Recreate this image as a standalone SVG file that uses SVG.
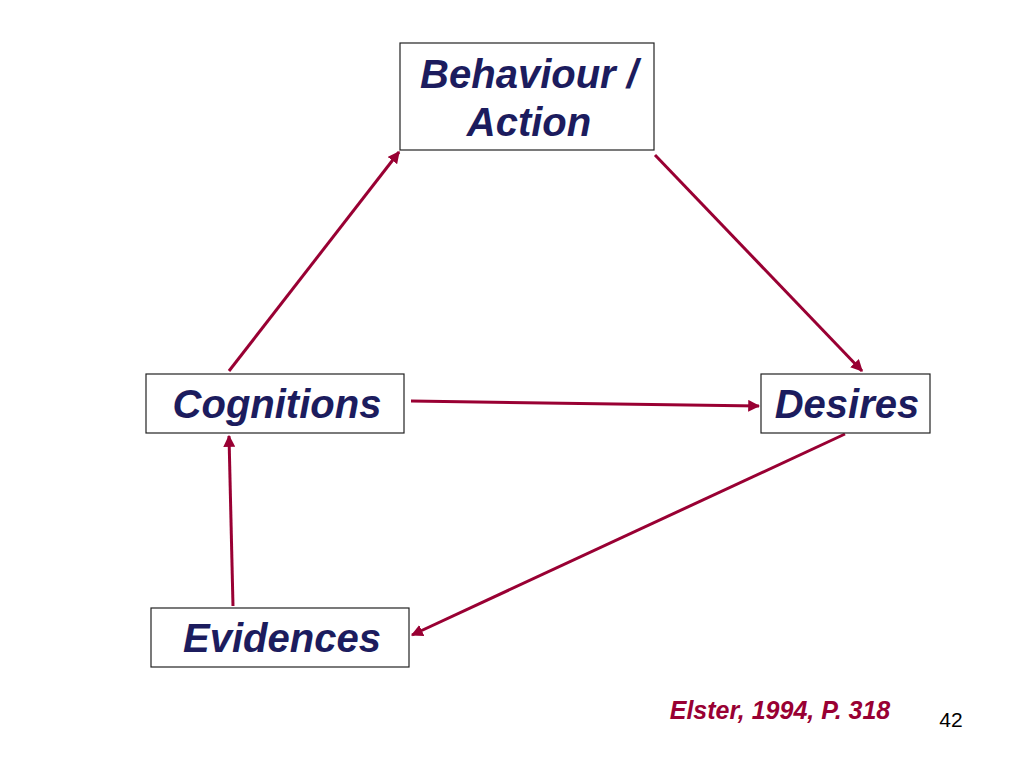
<svg xmlns="http://www.w3.org/2000/svg" width="1024" height="768" viewBox="0 0 1024 768">
<defs>
<style>
.box{fill:#fff;stroke:#222;stroke-width:1.2}
.lbl{font-family:"Liberation Sans",Arial,sans-serif;font-weight:bold;font-style:italic;font-size:40px;fill:#1c1c5e;text-anchor:middle}
.con{stroke:#990033;stroke-width:3;fill:none;marker-end:url(#ah)}
</style>
<marker id="ah" viewBox="0 0 10 10" refX="9" refY="5" markerWidth="4" markerHeight="4" orient="auto" markerUnits="strokeWidth">
<path d="M0,0 L10,5 L0,10 z" fill="#990033"/>
</marker>
</defs>
<rect width="1024" height="768" fill="#fff"/>
<g id="connectors">
<line class="con" x1="229" y1="371" x2="399" y2="152"/>
<line class="con" x1="655" y1="155" x2="862" y2="371"/>
<line class="con" x1="411" y1="401" x2="759" y2="406"/>
<line class="con" x1="845" y1="434" x2="412" y2="635"/>
<line class="con" x1="233" y1="606" x2="229" y2="436"/>
</g>
<g id="behaviour">
<rect class="box" x="400" y="43" width="254" height="107"/>
<text class="lbl" x="529" y="88">Behaviour /</text>
<text class="lbl" x="529" y="136">Action</text>
</g>
<g id="cognitions">
<rect class="box" x="146" y="374" width="258" height="59"/>
<text class="lbl" x="277" y="418">Cognitions</text>
</g>
<g id="desires">
<rect class="box" x="761" y="374" width="169" height="59"/>
<text class="lbl" x="847" y="418">Desires</text>
</g>
<g id="evidences">
<rect class="box" x="151" y="608" width="258" height="59"/>
<text class="lbl" x="282" y="652">Evidences</text>
</g>
<text x="780" y="719" font-family="Liberation Sans,Arial,sans-serif" font-weight="bold" font-style="italic" font-size="25" fill="#990033" text-anchor="middle">Elster, 1994, P. 318</text>
<text x="951" y="727" font-family="Liberation Sans,Arial,sans-serif" font-size="21" fill="#000" text-anchor="middle">42</text>
</svg>
